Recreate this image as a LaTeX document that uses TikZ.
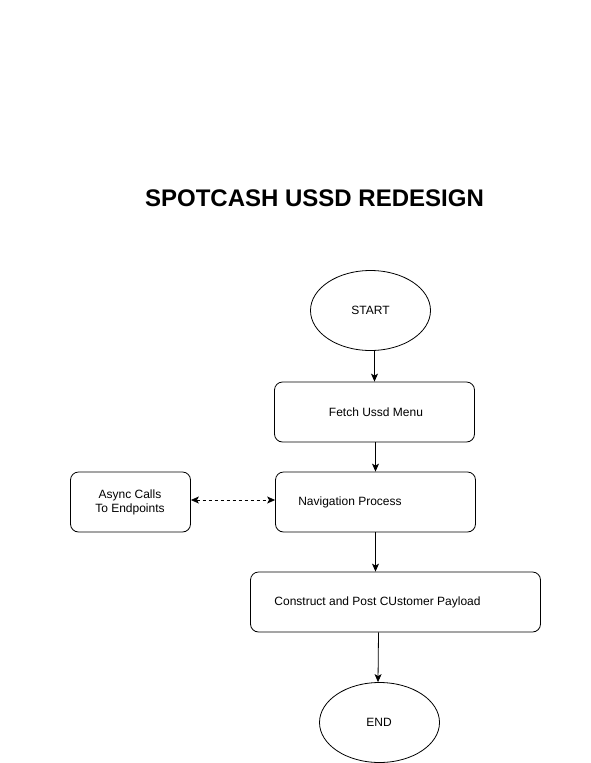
\documentclass[tikz,border=0pt]{standalone}
\usepackage{fontspec}
\setmainfont{Liberation Sans}
\usetikzlibrary{arrows.meta,shapes.geometric}
\begin{document}
\begin{tikzpicture}[x=1pt,y=-1pt,
  box/.style={draw,rounded corners=8pt,inner sep=0pt,line width=0.8pt},
  oval/.style={draw,ellipse,inner sep=0pt,line width=0.8pt},
  lbl/.style={font=\fontsize{12}{14}\selectfont,align=center},
  tip/.style={Stealth[length=8pt,width=7pt,inset=2pt]},
  arr/.style={-{Stealth[length=8pt,width=7pt,inset=2pt]},line width=0.8pt}]
\useasboundingbox (0,0) rectangle (591,763);
\node[font=\fontsize{24}{28}\bfseries] (title) at (314.5,198) {SPOTCASH USSD REDESIGN};
\node[oval,minimum width=120,minimum height=80] (start) at (370.5,310.5) {};
\node[lbl] (startl) at (370.5,310) {START};
\node[box,minimum width=200,minimum height=60] (fetch) at (374.5,412) {};
\node[lbl] (fetchl) at (376,412) {Fetch Ussd Menu};
\node[box,minimum width=200,minimum height=60] (nav) at (375.5,502) {};
\node[lbl] (navl) at (350,502) {Navigation Process};
\node[box,minimum width=120,minimum height=60] (async) at (130.5,502) {};
\node[lbl] (asyncl) at (130,502) {Async Calls\\To Endpoints};
\node[box,minimum width=290,minimum height=60] (cons) at (395.5,602) {};
\node[lbl] (consl) at (377.5,602) {Construct and Post CUstomer Payload};
\node[oval,minimum width=120,minimum height=80] (end) at (379.5,722.5) {};
\node[lbl] (endl) at (379,722) {END};
\draw[arr] ([xshift=4]start.south) -- ([xshift=0]fetch.north);
\draw[arr] ([xshift=1]fetch.south) -- ([xshift=0]nav.north);
\draw[arr] ([xshift=0]nav.south) -- ([xshift=0]nav.south |- cons.north);
\draw[arr] ([xshift=-17]cons.south) -- ([xshift=-1.5]end.north);
\draw[line width=0.8pt,{Stealth[length=8pt,width=7pt,inset=2pt]}-{Stealth[length=8pt,width=7pt,inset=2pt]},dash pattern=on 3pt off 3pt] ([yshift=2]async.east) -- ([yshift=2]nav.west);
\end{tikzpicture}
\end{document}
